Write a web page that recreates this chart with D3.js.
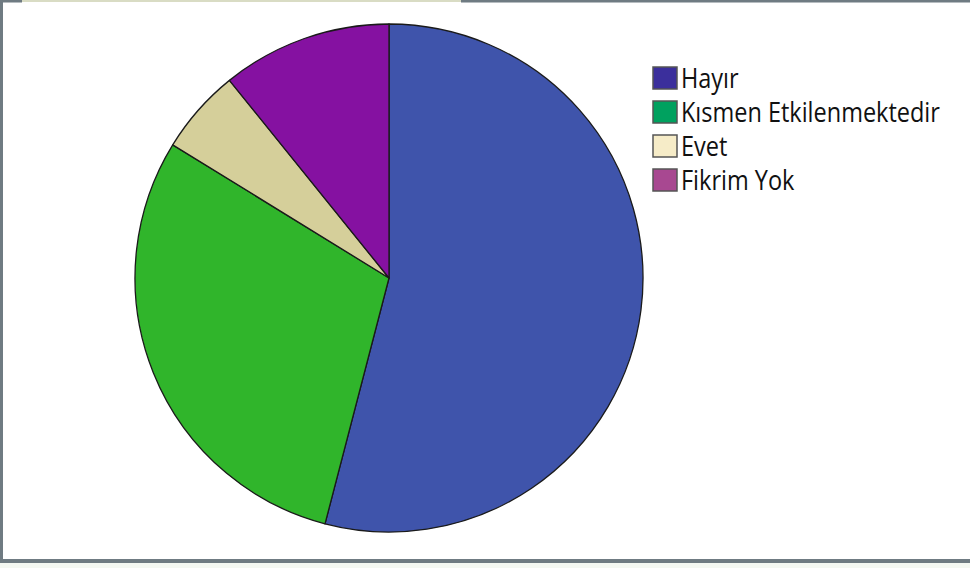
<!DOCTYPE html>
<html>
<head>
<meta charset="utf-8">
<script src="https://cdn.jsdelivr.net/npm/d3@7"></script>
<style>
  html, body { margin: 0; padding: 0; background: #fff; }
  svg { display: block; }
</style>
</head>
<body>
<svg id="chart" width="970" height="568"></svg>
<script>
// Response categories and counts
const categories = ["Hayır", "Kısmen Etkilenmektedir", "Evet", "Fikrim Yok"];
const counts = [20, 11, 2, 4];
// Slice fills and legend swatch fills
const sliceColors = ["#3f54ab", "#30b52b", "#d5cf9a", "#8511a1"];
const legendColors = ["#3b2f9c", "#00a15f", "#f6ecc8", "#a84891"];

const svg = d3.select("#chart");
const W = 970, H = 568;

// Outer frame
svg.append("rect").attr("x", 0).attr("y", 0).attr("width", W).attr("height", H).attr("fill", "#fff");
svg.append("rect").attr("x", 0).attr("y", 0).attr("width", 3).attr("height", 563).attr("fill", "#6f7b82");
svg.append("rect").attr("x", 0).attr("y", 559).attr("width", W).attr("height", 4).attr("fill", "#6f7b82");
svg.append("rect").attr("x", 0).attr("y", 0).attr("width", 22).attr("height", 2.5).attr("fill", "#6f7b82");
svg.append("rect").attr("x", 461).attr("y", 0).attr("width", W - 461).attr("height", 2.5).attr("fill", "#6f7b82");
svg.append("rect").attr("x", 22).attr("y", 0).attr("width", 439).attr("height", 2).attr("fill", "#d9dcc4");
svg.append("rect").attr("x", 0).attr("y", 563).attr("width", W).attr("height", 5).attr("fill", "#f4f8f2");

// Pie
const cx = 389, cy = 278, R = 254;
const pie = d3.pie().sort(null).value(d => d);
const arc = d3.arc().innerRadius(0).outerRadius(R);
const g = svg.append("g").attr("transform", `translate(${cx},${cy})`);
g.selectAll("path")
  .data(pie(counts))
  .join("path")
  .attr("d", arc)
  .attr("fill", (d, i) => sliceColors[i])
  .attr("stroke", "#1a1a1a")
  .attr("stroke-width", 1.3)
  .attr("stroke-linejoin", "round");

// Legend
const lx = 653, ly = 67, step = 34;
const items = svg.append("g").selectAll("g")
  .data(categories)
  .join("g")
  .attr("transform", (d, i) => `translate(${lx},${ly + i * step})`);
items.append("rect")
  .attr("x", 0).attr("y", 0)
  .attr("width", 24).attr("height", 22)
  .attr("fill", (d, i) => legendColors[i])
  .attr("stroke", "#555").attr("stroke-width", 1.5);
const labels = items.append("text")
  .attr("x", 28).attr("y", 21)
  .attr("font-family", "'Open Sans', sans-serif")
  .attr("font-size", 26.5)
  .attr("fill", "#111")
  .text(d => d);

// Condense the labels so the longest one spans the legend width
let k = 1;
labels.each(function (d) {
  if (d === "Kısmen Etkilenmektedir") k = 259 / this.getComputedTextLength();
});
labels.attr("transform", `translate(28,21) scale(${k},1) translate(-28,-21)`);
</script>
</body>
</html>
